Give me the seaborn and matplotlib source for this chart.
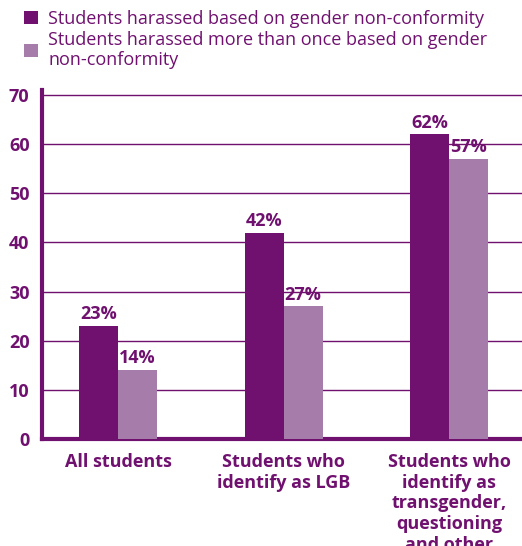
import matplotlib
matplotlib.use("Agg")
import matplotlib.pyplot as plt
import seaborn as sns
import pandas as pd

categories = ["All students",
              "Students who\nidentify as LGB",
              "Students who\nidentify as\ntransgender,\nquestioning\nand other"]
series_names = ["Students harassed based on gender non-conformity",
                "Students harassed more than once based on gender\nnon-conformity"]
harassed = [23, 42, 62]
harassed_repeat = [14, 27, 57]
yticks = [0, 10, 20, 30, 40, 50, 60, 70]

DARK = "#701170"
LIGHT = "#A67DAA"
TEXT = "#701170"

df = pd.DataFrame({
    "group": categories * 2,
    "series": [series_names[0]] * 3 + [series_names[1]] * 3,
    "value": harassed + harassed_repeat,
})

sns.set_theme(style="white")
plt.rcParams["font.family"] = ["Open Sans", "DejaVu Sans"]

fig = plt.figure(figsize=(5.22, 5.46), dpi=100)
ax = fig.add_axes([0.0805, 0.196, 0.9195, 0.639])

sns.barplot(data=df, x="group", y="value", hue="series", order=categories,
            hue_order=series_names, palette=[DARK, LIGHT], width=0.47,
            saturation=1, linewidth=0, ax=ax, legend=True, zorder=3)

ax.set_xlim(-0.46, 2.44)
ax.set_ylim(0, 71)
ax.set_yticks(yticks)
ax.set_yticklabels([str(t) for t in yticks], fontsize=13, fontweight="bold", color=TEXT)
ax.set_xticks(range(len(categories)))
ax.set_xticklabels(categories, fontsize=13, fontweight="bold", color=TEXT,
                   linespacing=1.2, va="top")
ax.tick_params(axis="y", length=0, pad=9)
ax.tick_params(axis="x", length=0, pad=10)
ax.set_xlabel("")
ax.set_ylabel("")

ax.grid(axis="y", color=DARK, linewidth=1.0, zorder=0)
ax.set_axisbelow(True)
for side in ["top", "right"]:
    ax.spines[side].set_visible(False)
for side in ["left", "bottom"]:
    ax.spines[side].set_color(DARK)
    ax.spines[side].set_linewidth(3)

for container in ax.containers:
    ax.bar_label(container, labels=[f"{v:g}%" for v in container.datavalues],
                 padding=2, fontsize=13, fontweight="bold", color=TEXT)

handles, labels = ax.get_legend_handles_labels()
ax.get_legend().remove()
leg = fig.legend(handles, labels, loc="upper left", bbox_to_anchor=(0.022, 1.005),
                 frameon=False, fontsize=13, handlelength=0.75, handleheight=0.75,
                 handletextpad=0.6, labelspacing=0.15, borderaxespad=0.3)
for t in leg.get_texts():
    t.set_color(TEXT)
    t.set_linespacing(1.15)

fig.savefig("out.png", dpi=100)
